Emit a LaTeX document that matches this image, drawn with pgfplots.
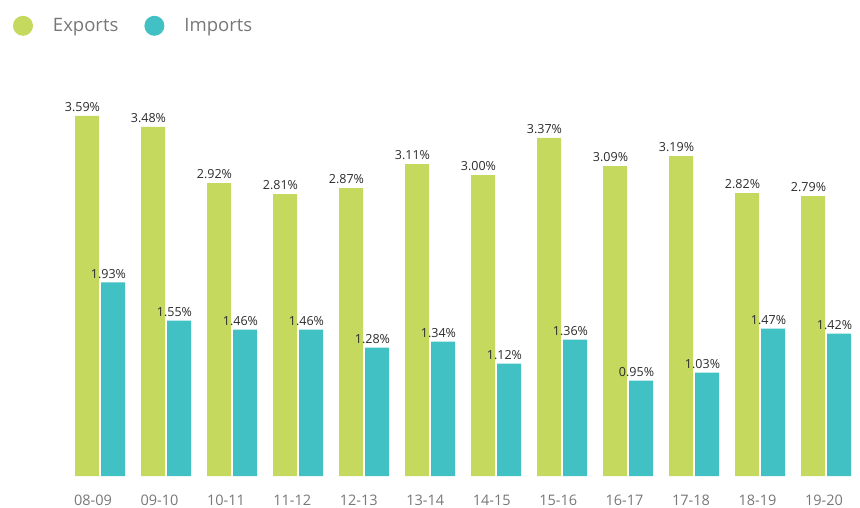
\documentclass[border=0pt]{standalone}
\usepackage{pgfplots}
\pgfplotsset{compat=1.18}
\usepackage{fontspec}
\setmainfont{Open Sans}
\definecolor{expgreen}{HTML}{C5D95E}
\definecolor{impteal}{HTML}{42C1C4}
\definecolor{ticklab}{HTML}{777777}
\definecolor{vallab}{HTML}{2B2B2B}
\begin{document}
\begin{tikzpicture}[x=1pt,y=1pt]
\path[use as bounding box] (0,0) rectangle (860,507);
\begin{axis}[
  at={(67pt,31pt)}, anchor=south west,
  scale only axis, width=792pt, height=401.2pt,
  xmin=-0.5, xmax=11.5, ymin=0, ymax=4,
  ybar, bar width=24pt,
  clip=false,
  axis line style={draw=none},
  tick style={draw=none},
  major tick length=0pt,
  ytick=\empty,
  xtick={-0.106,0.901,1.908,2.914,3.921,4.928,5.935,6.942,7.948,8.955,9.962,10.969},
  xticklabels={08-09,09-10,10-11,11-12,12-13,13-14,14-15,15-16,16-17,17-18,18-19,19-20},
  xticklabel style={font=\fontsize{14.5}{16}\selectfont, text=ticklab, inner sep=0pt, yshift=-18.5pt},
  /pgf/number format/assume math mode=true,
  nodes near coords={\pgfmathprintnumber[fixed,fixed zerofill,precision=2]{\pgfplotspointmeta}\%},
  nodes near coords style={font=\fontsize{12.5}{14}\selectfont, text=vallab, inner sep=0pt, anchor=south, yshift=4pt, xshift=-4.5pt},
  legend columns=2,
  legend style={at={(0,1)}, anchor=north west, xshift=-54pt, yshift=59pt,
    draw=none, fill=none, inner sep=0pt, outer sep=0pt,
    font=\fontsize{18.5}{20}\selectfont, text=ticklab,
    nodes={inner sep=0pt},
    /tikz/every odd column/.style={column sep=20pt},
    /tikz/every even column/.style={column sep=26pt}},
  legend image code/.code={\fill[#1] (10pt,0pt) circle (10pt);},
]
\addplot[fill=expgreen, draw=none, bar shift=-13pt] coordinates {
 (0,3.59) (1,3.48) (2,2.92) (3,2.81) (4,2.87) (5,3.11) (6,3.00) (7,3.37) (8,3.09) (9,3.19) (10,2.82) (11,2.79)};
\addplot[fill=impteal, draw=none, bar shift=13pt] coordinates {
 (0,1.93) (1,1.55) (2,1.46) (3,1.46) (4,1.28) (5,1.34) (6,1.12) (7,1.36) (8,0.95) (9,1.03) (10,1.47) (11,1.42)};
\legend{Exports, Imports}
\end{axis}
\end{tikzpicture}
\end{document}
